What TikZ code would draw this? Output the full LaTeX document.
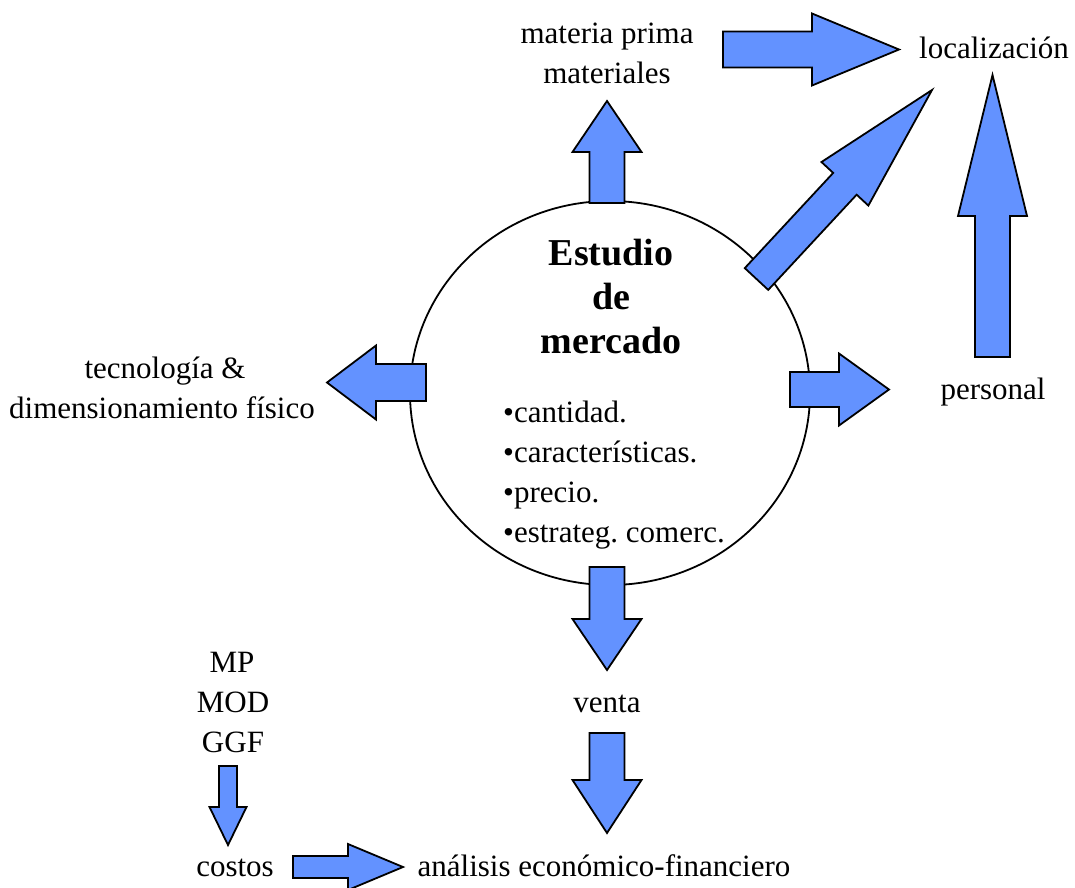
\documentclass[tikz,border=0pt]{standalone}
\usepackage{fontspec}
\setmainfont{Liberation Serif}
\usetikzlibrary{calc,shapes.geometric}
\definecolor{arrowblue}{RGB}{99,146,255}
\frenchspacing
% block arrow from #1 (tail centre) to #2 (tip):
% #3 half shaft width, #4 half head width, #5 head length
\newcommand\fatarrow[5]{%
  \coordinate (fa-h) at ($(#2)!#5pt!(#1)$);
  \draw[fatarrowstyle]
    ($(#1)!#3pt!90:(#2)$) -- ($(fa-h)!#3pt!90:(#2)$) -- ($(fa-h)!#4pt!90:(#2)$)
    -- (#2) -- ($(fa-h)!#4pt!-90:(#2)$) -- ($(fa-h)!#3pt!-90:(#2)$)
    -- ($(#1)!#3pt!-90:(#2)$) -- cycle;}
\begin{document}
\begin{tikzpicture}[x=1pt,y=-1pt,
  fatarrowstyle/.style={draw=black,fill=arrowblue,line width=1.8pt,line join=miter},
  lbl/.style={anchor=base,inner sep=0pt,font=\fontsize{31}{40}\selectfont},
  title/.style={anchor=base,inner sep=0pt,font=\fontsize{38}{44}\selectfont\bfseries},
  item/.style={anchor=base west,inner sep=0pt,font=\fontsize{31}{40}\selectfont}]
\useasboundingbox (0,0) rectangle (1075,887);

% central market study
\node[draw,ellipse,line width=1.8pt,minimum width=400pt,minimum height=384pt,inner sep=0pt] (est) at (610,393) {};
\node[title] (t1) at (611,265) {Estudio};
\node[title] (t2) at (611,309) {de};
\node[title] (t3) at (611,353) {mercado};
\node[item] (b1) at (503,422) {•cantidad.};
\node[item] (b2) at (503,462) {•características.};
\node[item] (b3) at (503,502) {•precio.};
\node[item] (b4) at (503,542) {•estrateg. comerc.};

% surrounding labels
\node[lbl] (mp1) at (607,43) {materia prima};
\node[lbl] (mp2) at (607,83) {materiales};
\node[lbl] (loc) at (994,58) {localización};
\node[lbl] (tec1) at (165,378) {tecnología \&};
\node[lbl] (tec2) at (162,418) {dimensionamiento físico};
\node[lbl] (per) at (993,399) {personal};
\node[lbl] (ven) at (607,712) {venta};
\node[lbl] (c1) at (232,672) {MP};
\node[lbl] (c2) at (233,712) {MOD};
\node[lbl] (c3) at (233,752) {GGF};
\node[lbl] (cos) at (235,876) {costos};
\node[lbl] (ana) at (604,876) {análisis económico-financiero};

% arrow end points
\coordinate (a1s) at (607,203);   \coordinate (a1e) at (607,101);
\coordinate (a2s) at (607,567);   \coordinate (a2e) at (607,670);
\coordinate (a3s) at (426,382.5); \coordinate (a3e) at (327,382.5);
\coordinate (a4s) at (790,389.5); \coordinate (a4e) at (889,389.5);
\coordinate (a5s) at (723,49.5);  \coordinate (a5e) at (899,49.5);
\coordinate (a6s) at (992.5,357); \coordinate (a6e) at (992.5,75);
\coordinate (a7s) at (756.5,279); \coordinate (a7e) at (932,90);
\coordinate (a8s) at (607,733);   \coordinate (a8e) at (607,833);
\coordinate (a9s) at (228,766);   \coordinate (a9e) at (228,845);
\coordinate (a10s) at (293,867);  \coordinate (a10e) at (403,867);

\fatarrow{a1s}{a1e}{17.5}{34.5}{51}
\fatarrow{a2s}{a2e}{17.5}{34.5}{51}
\fatarrow{a3s}{a3e}{18.5}{37}{49}
\fatarrow{a4s}{a4e}{17.5}{36}{50}
\fatarrow{a5s}{a5e}{18}{36}{87}
\fatarrow{a6s}{a6e}{17.5}{34.5}{141}
\fatarrow{a7s}{a7e}{16}{32}{128}
\fatarrow{a8s}{a8e}{17.5}{34.5}{53}
\fatarrow{a9s}{a9e}{9}{18.5}{38}
\fatarrow{a10s}{a10e}{11}{23}{55}
\end{tikzpicture}
\end{document}
